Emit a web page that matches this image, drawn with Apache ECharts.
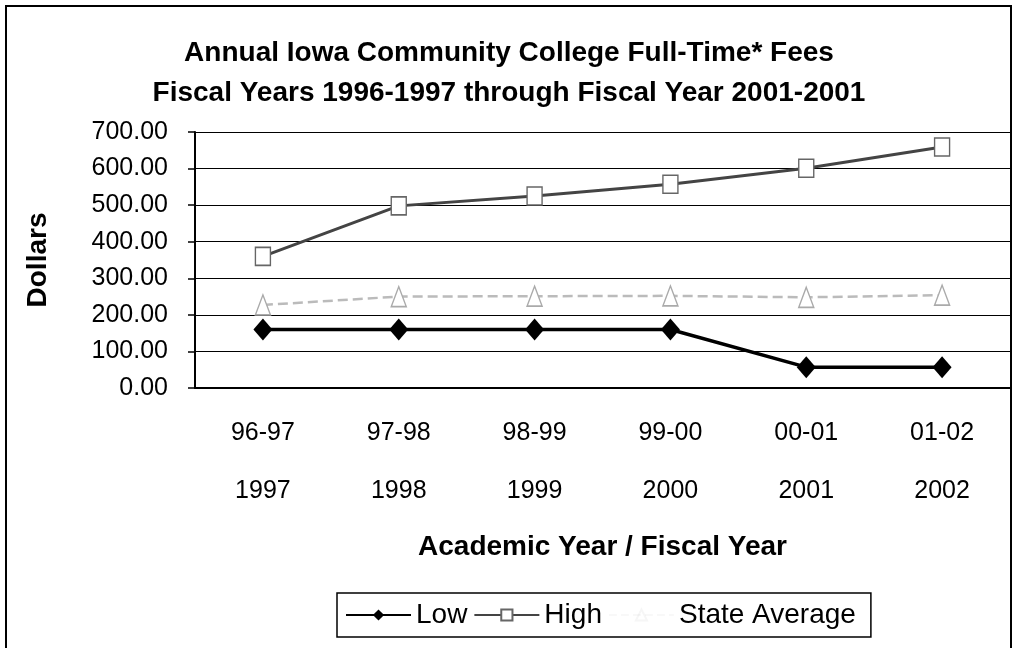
<!DOCTYPE html>
<html><head><meta charset="utf-8">
<script src="https://cdn.jsdelivr.net/npm/echarts@6/dist/echarts.min.js"></script>
<style>html,body{margin:0;padding:0;background:#fff}#c{width:1018px;height:648px}</style>
</head><body><div id="c"></div>
<script>
const academicYears = ['96-97','97-98','98-99','99-00','00-01','01-02'];
const fiscalYears = ['1997','1998','1999','2000','2001','2002'];
const yTicks = [0,100,200,300,400,500,600,700];
const lowFees = [160,160,160,160,57,57];
const highFees = [360,498,525,557,601,659];
const stateAverage = [227,250,251,252,248,254];

const categories = academicYears.map((a,i)=>a+'\n'+fiscalYears[i]);
const chart = echarts.init(document.getElementById('c'));
const F = 'Arial, "Liberation Sans", sans-serif';
chart.setOption({
  animation:false,
  backgroundColor:'#fff',
  title:{
    text:'Annual Iowa Community College Full-Time* Fees\nFiscal Years 1996-1997 through Fiscal Year 2001-2001',
    left:'center', top:28,
    textStyle:{fontFamily:F,fontSize:28,fontWeight:'bold',color:'#000',lineHeight:40}
  },
  graphic:[{type:'rect',shape:{x:6,y:6,width:1005,height:660},style:{fill:'none',stroke:'#000',lineWidth:2},silent:true}],
  grid:{left:195,right:8,top:132,bottom:260},
  legend:{
    bottom:11,left:337,
    itemWidth:65,itemHeight:14,itemGap:6,
    padding:[8,15,8,8],
    borderColor:'#000',borderWidth:1.5,
    textStyle:{fontFamily:F,fontSize:28,color:'#000'},
    data:['Low','High',{name:'State Average',itemStyle:{opacity:0.1},lineStyle:{opacity:0.1}}]
  },
  xAxis:{
    type:'category',data:categories,boundaryGap:true,
    axisLine:{lineStyle:{color:'#000',width:2}},
    axisTick:{show:false},
    axisLabel:{fontFamily:F,fontSize:25,color:'#000',lineHeight:58,margin:16},
    name:'Academic Year / Fiscal Year',nameLocation:'middle',nameGap:145,
    nameTextStyle:{fontFamily:F,fontSize:28,fontWeight:'bold',color:'#000'}
  },
  yAxis:{
    type:'value',min:0,max:700,interval:100,
    axisLine:{show:true,lineStyle:{color:'#000',width:2}},
    axisTick:{show:true,length:7,lineStyle:{color:'#000',width:1.5}},
    splitLine:{lineStyle:{color:'#000',width:1.2}},
    axisLabel:{fontFamily:F,fontSize:25,color:'#000',margin:27,formatter:v=>v.toFixed(2)},
    name:'Dollars',nameLocation:'middle',nameGap:143,nameRotate:90,
    nameTextStyle:{fontFamily:F,fontSize:28,fontWeight:'bold',color:'#000'}
  },
  series:[
    {name:'Low',type:'line',data:lowFees,symbol:'diamond',symbolSize:[19,22],
     lineStyle:{color:'#000',width:3.5},itemStyle:{color:'#000'}},
    {name:'High',type:'line',data:highFees,symbol:'rect',symbolSize:[15,18],
     lineStyle:{color:'#444',width:3},itemStyle:{color:'#fff',borderColor:'#666',borderWidth:1.5}},
    {name:'State Average',type:'line',data:stateAverage,symbol:'triangle',symbolSize:[15,20],
     lineStyle:{color:'#bbb',width:2.5,type:'dashed'},itemStyle:{color:'#fff',borderColor:'#aaa',borderWidth:1.5}}
  ]
});
</script></body></html>
